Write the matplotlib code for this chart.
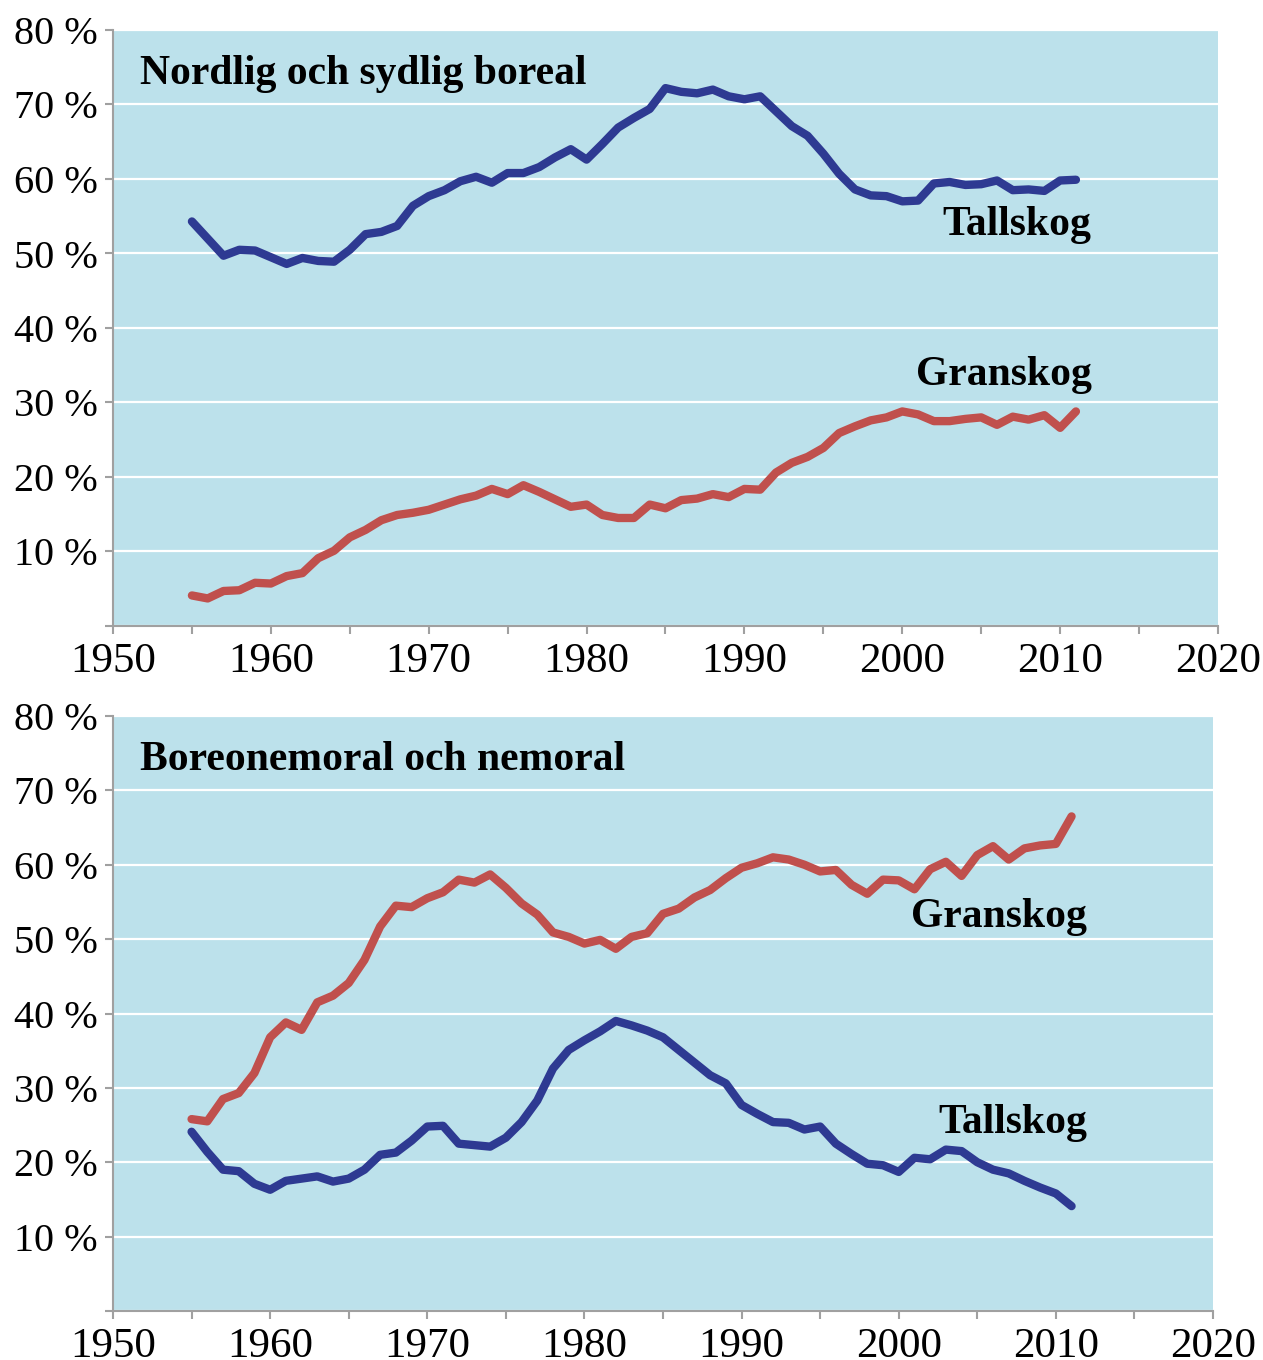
import matplotlib
matplotlib.use("Agg")
import matplotlib.pyplot as plt
from matplotlib.ticker import MultipleLocator, FixedLocator, FuncFormatter

years = list(range(1955, 2012))

# Panel 1: Nordlig och sydlig boreal
tall_boreal = [54.3, 52.0, 49.7, 50.5, 50.4, 49.5, 48.6, 49.4, 49.0, 48.9,
               50.5, 52.6, 52.9, 53.7, 56.4, 57.7, 58.5, 59.7, 60.3, 59.5,
               60.8, 60.8, 61.6, 62.9, 64.0, 62.6, 64.7, 66.9, 68.2, 69.4,
               72.2, 71.7, 71.5, 72.0, 71.1, 70.7, 71.1, 69.1, 67.1, 65.8,
               63.4, 60.7, 58.6, 57.8, 57.7, 57.0, 57.1, 59.4, 59.6, 59.2,
               59.3, 59.8, 58.5, 58.6, 58.4, 59.8, 59.9]
gran_boreal = [4.1, 3.7, 4.7, 4.8, 5.8, 5.7, 6.7, 7.1, 9.1, 10.1,
               11.9, 12.9, 14.2, 14.9, 15.2, 15.6, 16.3, 17.0, 17.5, 18.4,
               17.7, 18.9, 18.0, 17.0, 16.0, 16.3, 14.9, 14.5, 14.5, 16.3,
               15.8, 16.9, 17.1, 17.7, 17.3, 18.4, 18.3, 20.6, 21.9, 22.7,
               23.9, 25.9, 26.8, 27.6, 28.0, 28.8, 28.4, 27.5, 27.5, 27.8,
               28.0, 27.0, 28.1, 27.7, 28.3, 26.6, 28.8]

# Panel 2: Boreonemoral och nemoral
gran_nemoral = [25.8, 25.5, 28.5, 29.3, 32.0, 36.8, 38.8, 37.8, 41.5, 42.4,
                44.1, 47.2, 51.7, 54.5, 54.3, 55.5, 56.3, 58.0, 57.6, 58.7,
                56.9, 54.8, 53.3, 50.9, 50.3, 49.4, 49.9, 48.7, 50.3, 50.8,
                53.4, 54.1, 55.6, 56.6, 58.2, 59.6, 60.2, 61.0, 60.7, 60.0,
                59.1, 59.3, 57.3, 56.1, 58.0, 57.9, 56.7, 59.4, 60.4, 58.5,
                61.3, 62.5, 60.7, 62.2, 62.6, 62.8, 66.5]
tall_nemoral = [24.1, 21.4, 19.0, 18.8, 17.1, 16.3, 17.5, 17.8, 18.1, 17.4,
                17.8, 19.0, 21.0, 21.3, 22.9, 24.8, 24.9, 22.5, 22.3, 22.1,
                23.3, 25.4, 28.3, 32.6, 35.1, 36.4, 37.6, 39.0, 38.4, 37.7,
                36.8, 35.1, 33.4, 31.7, 30.6, 27.7, 26.5, 25.4, 25.3, 24.4,
                24.8, 22.5, 21.1, 19.8, 19.6, 18.7, 20.6, 20.4, 21.7, 21.5,
                20.0, 19.0, 18.5, 17.5, 16.6, 15.8, 14.1]

titles = ["Nordlig och sydlig boreal", "Boreonemoral och nemoral"]
label_tall = "Tallskog"
label_gran = "Granskog"
y_ticks = [0, 10, 20, 30, 40, 50, 60, 70, 80]
x_ticks = [1950, 1960, 1970, 1980, 1990, 2000, 2010, 2020]

BLUE = "#2E3A92"
RED = "#C0504D"
BG = "#BCE1EB"
GRAY = "#A0A0A0"

plt.rcParams['font.family'] = ['Liberation Serif', 'DejaVu Serif']

fig = plt.figure(figsize=(12.63, 13.6), dpi=100)
W, H = 1263, 1360
ax1 = fig.add_axes([113 / W, 1 - 626 / H, 1105 / W, 596 / H])
ax2 = fig.add_axes([113 / W, 1 - 1311 / H, 1100 / W, 595 / H])

panels = [
    (ax1, tall_boreal, gran_boreal, 52.5, 32.3),
    (ax2, tall_nemoral, gran_nemoral, 24.0, 51.6),
]

for i, (ax, tall, gran, ty, gy) in enumerate(panels):
    ax.set_facecolor(BG)
    ax.set_xlim(1950, 2020)
    ax.set_ylim(0, 80)
    ax.yaxis.set_major_locator(FixedLocator(y_ticks))
    ax.yaxis.set_major_formatter(FuncFormatter(lambda v, p: "" if v == 0 else f"{int(v)} %"))
    ax.xaxis.set_major_locator(FixedLocator(x_ticks))
    ax.xaxis.set_minor_locator(MultipleLocator(5))
    ax.grid(axis='y', color='white', linewidth=1.6)
    ax.set_axisbelow(True)
    for s in ['top', 'right']:
        ax.spines[s].set_visible(False)
    for s in ['left', 'bottom']:
        ax.spines[s].set_color(GRAY)
        ax.spines[s].set_linewidth(1.5)
    ax.tick_params(axis='y', which='both', direction='out', length=6, width=1.5,
                   color=GRAY, labelsize=29, pad=5)
    ax.tick_params(axis='x', which='both', direction='out', length=6, width=1.5,
                   color=GRAY, labelsize=31, pad=6)
    ax.plot(years, tall, color=BLUE, linewidth=6, solid_capstyle='round',
            solid_joinstyle='round', zorder=3)
    ax.plot(years, gran, color=RED, linewidth=6, solid_capstyle='round',
            solid_joinstyle='round', zorder=3)
    ax.text(1951.7, 72.8, titles[i], fontsize=30, fontweight='bold',
            ha='left', va='baseline', color='black')
    ax.text(2012, ty, label_tall, fontsize=30, fontweight='bold',
            ha='right', va='baseline', color='black')
    ax.text(2012, gy, label_gran, fontsize=30, fontweight='bold',
            ha='right', va='baseline', color='black')

fig.savefig("out.png", dpi=100)
